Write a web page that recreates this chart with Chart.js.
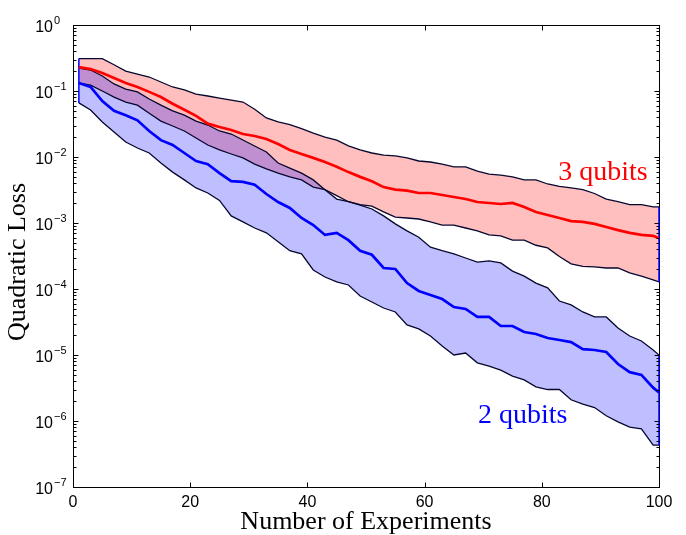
<!DOCTYPE html>
<html>
<head>
<meta charset="utf-8">
<script src="https://cdn.jsdelivr.net/npm/chart.js@4.4.1/dist/chart.umd.min.js"></script>
<style>
    html, body { margin: 0; padding: 0; background: #fff; }
    #grafico { display: block; }
</style>
</head>
<body>
<canvas id="grafico" width="686" height="535"></canvas>
<script>
// numero de experimentos (eixo x)
const experimentos = [1, 3, 5, 7, 9, 11, 13, 15, 17, 19, 21, 23, 25, 27, 29, 31, 33, 35, 37, 39,
    41, 43, 45, 47, 49, 51, 53, 55, 57, 59, 61, 63, 65, 67, 69, 71, 73, 75, 77, 79,
    81, 83, 85, 87, 89, 91, 93, 95, 97, 99, 100];

// 3 qubits
const mediana3 = [0.23, 0.215, 0.187, 0.157, 0.132, 0.115, 0.097, 0.081, 0.064, 0.052,
    0.042, 0.032, 0.0285, 0.0256, 0.0223, 0.0208, 0.0187, 0.0157, 0.0128, 0.0111,
    0.0097, 0.0084, 0.0071, 0.0059, 0.0050, 0.0043, 0.0035, 0.0032, 0.0031, 0.00285,
    0.00285, 0.00266, 0.00248, 0.00231, 0.00208, 0.00201, 0.00194, 0.00201, 0.00175, 0.00147,
    0.00132, 0.00119, 0.00107, 0.00104, 0.00097, 0.00087, 0.00078, 0.00071, 0.00066, 0.00064, 0.00059];
const superior3 = [0.31, 0.31, 0.31, 0.25, 0.20, 0.18, 0.163, 0.137, 0.115, 0.104,
    0.090, 0.084, 0.078, 0.073, 0.068, 0.053, 0.039, 0.034, 0.031, 0.027,
    0.023, 0.020, 0.018, 0.0147, 0.0128, 0.0115, 0.0107, 0.0104, 0.0097, 0.0087,
    0.0084, 0.0078, 0.0071, 0.0071, 0.0061, 0.0055, 0.0053, 0.0050, 0.0045, 0.0045,
    0.0039, 0.0036, 0.0034, 0.0032, 0.0028, 0.0023, 0.0021, 0.0019, 0.0019, 0.00175, 0.00175];
const inferior3 = [0.132, 0.123, 0.100, 0.081, 0.068, 0.061, 0.046, 0.035, 0.0295, 0.0248,
    0.0194, 0.0152, 0.0128, 0.0111, 0.0097, 0.0078, 0.0066, 0.0057, 0.0050, 0.0045,
    0.0035, 0.0032, 0.0026, 0.0021, 0.0019, 0.0018, 0.00147, 0.00123, 0.00119, 0.00115,
    0.00104, 0.00093, 0.00093, 0.00084, 0.00076, 0.00066, 0.00064, 0.00055, 0.00055, 0.00046,
    0.00042, 0.00031, 0.00024, 0.00022, 0.000216, 0.000208, 0.000208, 0.000175, 0.000157, 0.000137, 0.000128];

// 2 qubits
const mediana2 = [0.132, 0.115, 0.0705, 0.050, 0.043, 0.036, 0.0248, 0.018, 0.0152, 0.0115,
    0.0087, 0.0078, 0.0057, 0.0043, 0.0042, 0.0038, 0.00275, 0.00208, 0.00169, 0.00119,
    0.00093, 0.00066, 0.00071, 0.00055, 0.00038, 0.00033, 0.000208, 0.000201, 0.000123, 0.0000933,
    0.0000811, 0.0000705, 0.0000533, 0.0000498, 0.0000377, 0.0000377, 0.0000275, 0.0000275, 0.0000223, 0.0000208,
    0.0000181, 0.0000169, 0.0000157, 0.0000123, 0.0000119, 0.0000111, 0.0000073, 0.0000055, 0.0000050, 0.0000032, 0.0000027];
const superior2 = [0.223, 0.208, 0.169, 0.128, 0.107, 0.097, 0.0756, 0.061, 0.050, 0.043,
    0.035, 0.0305, 0.0248, 0.0223, 0.0181, 0.0147, 0.0119, 0.0081, 0.0068, 0.0057,
    0.0045, 0.0032, 0.0023, 0.0021, 0.00187, 0.00163, 0.00128, 0.00097, 0.00076, 0.00061,
    0.00043, 0.00038, 0.00034, 0.000295, 0.000256, 0.000266, 0.000248, 0.000187, 0.000157, 0.000123,
    0.000104, 0.0000658, 0.0000573, 0.0000449, 0.0000377, 0.0000377, 0.0000256, 0.0000194, 0.0000163, 0.0000119, 0.0000100];
const inferior2 = [0.066, 0.0515, 0.034, 0.024, 0.0169, 0.0137, 0.0115, 0.0081, 0.0059, 0.0045,
    0.0034, 0.00285, 0.0022, 0.00128, 0.00104, 0.00084, 0.00071, 0.00052, 0.00038, 0.00034,
    0.000194, 0.000152, 0.000128, 0.000115, 0.0000783, 0.0000636, 0.0000515, 0.0000449, 0.0000285, 0.0000248,
    0.0000194, 0.0000137, 0.0000100, 0.0000107, 0.0000076, 0.0000068, 0.0000059, 0.0000048, 0.0000042, 0.0000033,
    0.0000030, 0.0000030, 0.0000021, 0.0000018, 0.0000016, 0.0000012, 0.00000097, 0.00000081, 0.00000076, 0.00000043, 0.00000043];

// eixos
const ticksX = [0, 20, 40, 60, 80, 100];
const expoentesY = [0, -1, -2, -3, -4, -5, -6, -7];
const decadasY = [1, 1e-1, 1e-2, 1e-3, 1e-4, 1e-5, 1e-6, 1e-7];
const menoresY = [2, 3, 4, 5, 6, 7, 8, 9];

const corContorno = '#06062e';
const fonteSans = '"Liberation Sans", Arial, sans-serif';
const fonteSerif = '"Liberation Serif", "Times New Roman", serif';

function pontos(valores) {
    return experimentos.map((x, i) => ({ x: x, y: valores[i] }));
}

function borda(x, y1, y2) {
    return {
        data: [{ x: x, y: y1 }, { x: x, y: y2 }],
        borderColor: '#0000ff',
        borderWidth: 1.5,
        pointRadius: 0,
        fill: false,
        clip: false
    };
}

function linhaLimite(valores, preenchimento) {
    return {
        data: pontos(valores),
        borderColor: corContorno,
        borderWidth: 1.3,
        pointRadius: 0,
        tension: 0,
        fill: preenchimento ? '+1' : false,
        backgroundColor: preenchimento || 'transparent'
    };
}

const ultimo = experimentos.length - 1;

const eixosMatlab = {
    id: 'eixosMatlab',
    beforeDatasetsDraw(chart) {
        const { ctx, chartArea: a } = chart;
        ctx.save();
        ctx.strokeStyle = '#000';
        ctx.lineWidth = 1;
        ctx.strokeRect(Math.round(a.left) + 0.5, Math.round(a.top) + 0.5,
            Math.round(a.right - a.left), Math.round(a.bottom - a.top));
        ctx.restore();
    },
    afterDatasetsDraw(chart) {
        const { ctx, chartArea: a, scales } = chart;
        const esq = Math.round(a.left) + 0.5;
        const dir = Math.round(a.right) + 0.5;
        const topo = Math.round(a.top) + 0.5;
        const base = Math.round(a.bottom) + 0.5;
        ctx.save();
        ctx.strokeStyle = '#000';
        ctx.lineWidth = 1;
        ctx.beginPath();
        ticksX.forEach(v => {
            const px = Math.round(scales.x.getPixelForValue(v)) + 0.5;
            ctx.moveTo(px, base); ctx.lineTo(px, base - 5);
            ctx.moveTo(px, topo); ctx.lineTo(px, topo + 5);
        });
        decadasY.forEach((d, i) => {
            const py = Math.round(scales.y.getPixelForValue(d)) + 0.5;
            ctx.moveTo(esq, py); ctx.lineTo(esq + 5, py);
            ctx.moveTo(dir, py); ctx.lineTo(dir - 5, py);
            if (i === decadasY.length - 1) return;
            menoresY.forEach(m => {
                const pm = Math.round(scales.y.getPixelForValue(m * decadasY[i + 1])) + 0.5;
                ctx.moveTo(esq, pm); ctx.lineTo(esq + 3, pm);
                ctx.moveTo(dir, pm); ctx.lineTo(dir - 3, pm);
            });
        });
        ctx.stroke();
        ctx.restore();
    },
    afterDraw(chart) {
        const { ctx, scales } = chart;
        ctx.save();
        ctx.fillStyle = '#000';

        // rotulos 10^n do eixo y
        decadasY.forEach((d, i) => {
            const py = scales.y.getPixelForValue(d);
            ctx.font = '16px ' + fonteSans;
            ctx.textAlign = 'right';
            ctx.textBaseline = 'alphabetic';
            ctx.fillText('10', 53, py + 7);
            ctx.font = '11px ' + fonteSans;
            ctx.textAlign = 'left';
            const e = expoentesY[i];
            ctx.fillText(e === 0 ? '0' : '\u2212' + (-e), 54, py - 1);
        });

        // titulo do eixo y
        ctx.save();
        ctx.translate(18.5, 262);
        ctx.rotate(-Math.PI / 2);
        ctx.font = '26px ' + fonteSerif;
        ctx.textAlign = 'center';
        ctx.textBaseline = 'middle';
        ctx.fillText('Quadratic Loss', 0, 0);
        ctx.restore();

        // identificacao das curvas
        ctx.font = '28px ' + fonteSerif;
        ctx.textAlign = 'left';
        ctx.textBaseline = 'alphabetic';
        ctx.fillStyle = '#ff0000';
        ctx.fillText('3 qubits', scales.x.getPixelForValue(82.8), scales.y.getPixelForValue(4.5e-3));
        ctx.fillStyle = '#0000ff';
        ctx.fillText('2 qubits', scales.x.getPixelForValue(69.1), scales.y.getPixelForValue(9.3e-7));
        ctx.restore();
    }
};

const ctx = document.getElementById('grafico').getContext('2d');

new Chart(ctx, {
    type: 'line',
    data: {
        datasets: [
            {
                label: '3 qubits',
                data: pontos(mediana3),
                borderColor: '#ff0000',
                borderWidth: 2.7,
                pointRadius: 0,
                tension: 0,
                fill: false
            },
            {
                label: '2 qubits',
                data: pontos(mediana2),
                borderColor: '#0000ff',
                borderWidth: 2.7,
                pointRadius: 0,
                tension: 0,
                fill: false
            },
            borda(experimentos[0], superior3[0], inferior2[0]),
            borda(experimentos[ultimo], superior3[ultimo], inferior3[ultimo]),
            borda(experimentos[ultimo], superior2[ultimo], inferior2[ultimo]),
            linhaLimite(superior2, 'rgba(0, 0, 255, 0.25)'),
            linhaLimite(inferior2),
            linhaLimite(superior3, 'rgba(255, 0, 0, 0.25)'),
            linhaLimite(inferior3)
        ]
    },
    options: {
        responsive: false,
        animation: false,
        devicePixelRatio: 1,
        layout: {
            padding: { top: 25, right: 27, left: 0, bottom: 0 }
        },
        plugins: {
            legend: { display: false },
            tooltip: { enabled: false },
            filler: { drawTime: 'beforeDatasetsDraw' }
        },
        scales: {
            x: {
                type: 'linear',
                min: 0,
                max: 100,
                afterFit: scale => { scale.height = 48; },
                afterBuildTicks: scale => { scale.ticks = ticksX.map(v => ({ value: v })); },
                grid: { display: false, drawTicks: false },
                border: { display: false },
                ticks: {
                    color: '#000',
                    padding: 6,
                    maxRotation: 0,
                    font: { family: fonteSans, size: 16 }
                },
                title: {
                    display: true,
                    text: 'Number of Experiments',
                    color: '#000',
                    font: { family: fonteSerif, size: 26, lineHeight: 1 },
                    padding: { top: 0, bottom: 0 }
                }
            },
            y: {
                type: 'logarithmic',
                min: 1e-7,
                max: 1,
                afterFit: scale => { scale.width = 73; },
                afterBuildTicks: scale => { scale.ticks = decadasY.map(v => ({ value: v })); },
                grid: { display: false, drawTicks: false },
                border: { display: false },
                ticks: { display: false }
            }
        }
    },
    plugins: [eixosMatlab]
});
</script>
</body>
</html>
